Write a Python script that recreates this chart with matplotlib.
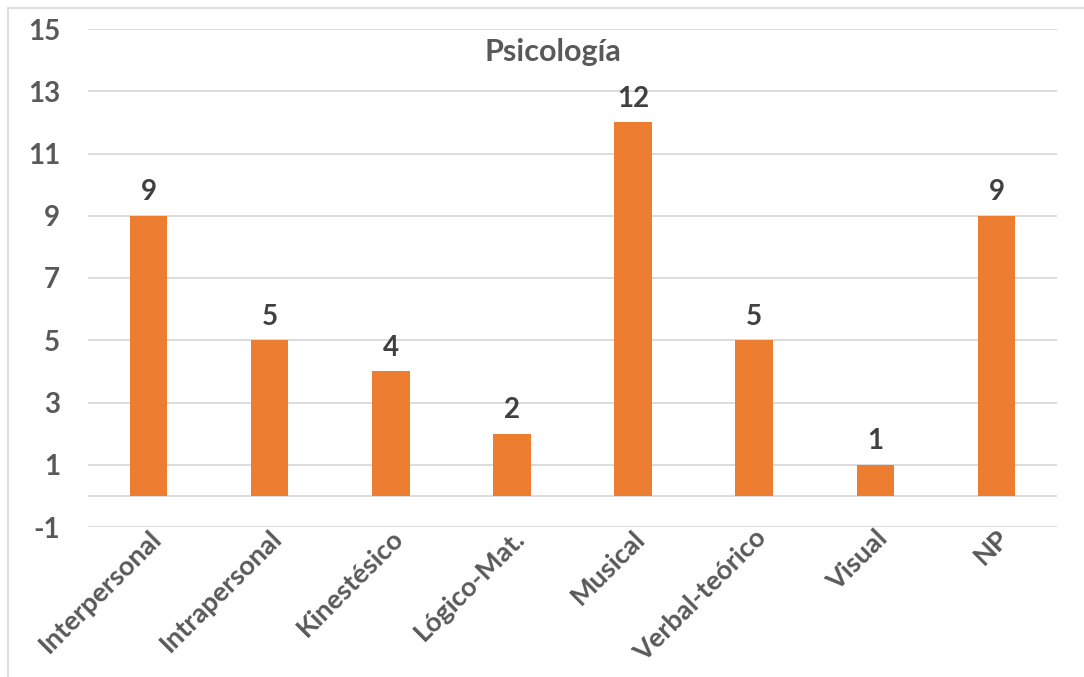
import matplotlib.pyplot as plt
from matplotlib.patches import Rectangle

# ---------------------------------------------
# DATA
# ---------------------------------------------

categories = ["Interpersonal", "Intrapersonal", "Kinestésico", "Lógico-Mat.",
              "Musical", "Verbal-teórico", "Visual", "NP"]
values = [9, 5, 4, 2, 12, 5, 1, 9]
y_ticks = [-1, 1, 3, 5, 7, 9, 11, 13, 15]

title = "Psicología"

# ---------------------------------------------
# FIGURE
# ---------------------------------------------

plt.rcParams["font.family"] = ["Lato", "DejaVu Sans"]
plt.rcParams["axes.unicode_minus"] = False
text_color = "#595959"
grid_color = "#D9D9D9"
bar_color = "#ED7D31"

fig = plt.figure(figsize=(10.84, 6.77), dpi=100)
ax = fig.add_axes([88 / 1084, 1 - 527 / 677, (1057 - 88) / 1084, (527 - 29) / 677])

# outer chart border
fig.patches.append(Rectangle((8 / 1084, -0.05), 1.2, 1 - 8 / 677 + 0.05,
                             transform=fig.transFigure, fill=False,
                             edgecolor=grid_color, linewidth=1.2))

x = list(range(len(categories)))

bars = ax.bar(x, values, width=0.31, color=bar_color, zorder=3)

# ---------------------------------------------
# LABELS
# ---------------------------------------------

for bar, v in zip(bars, values):
    ax.text(bar.get_x() + bar.get_width() / 2, v + 0.33, f"{v}",
            ha="center", va="bottom", fontsize=20, fontweight="bold",
            color="#404040")

ax.set_ylim(-1, 15)
ax.set_xlim(-0.5, len(categories) - 0.5)
ax.set_yticks(y_ticks)
ax.set_xticks(x)
ax.set_xticklabels(categories, rotation=45, ha="right", va="top",
                   rotation_mode="anchor")

ax.tick_params(axis="y", length=0, pad=20, labelsize=20, labelcolor=text_color)
ax.tick_params(axis="x", length=0, pad=-1, labelsize=19.5, labelcolor=text_color)
for lab in ax.get_xticklabels() + ax.get_yticklabels():
    lab.set_fontweight("bold")

ax.grid(axis="y", color=grid_color, linewidth=1.3, zorder=0)
ax.axhline(0, color=grid_color, linewidth=1.3, zorder=1)
for s in ax.spines.values():
    s.set_visible(False)

fig.text(553 / 1084, 1 - 52 / 677, title, ha="center", va="center",
         fontsize=22, fontweight="bold", color=text_color)

plt.savefig("out.png", dpi=100)
